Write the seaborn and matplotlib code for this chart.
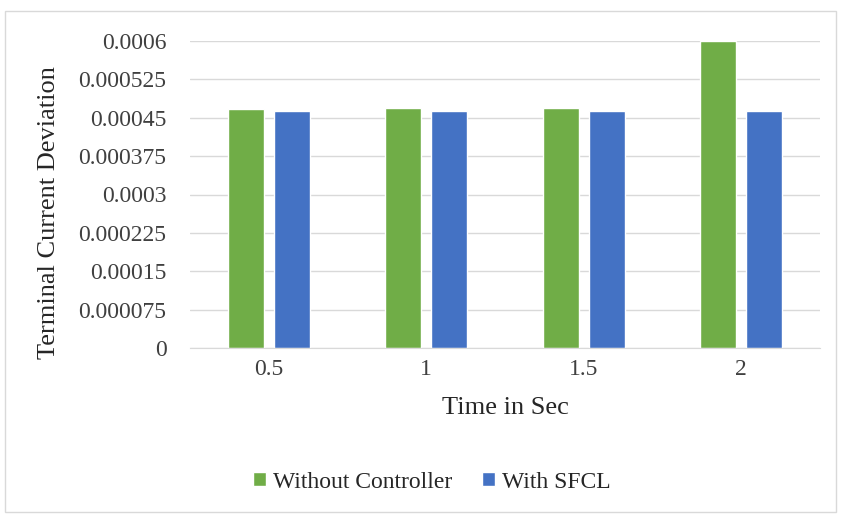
import pandas as pd
import matplotlib.pyplot as plt
import seaborn as sns
from matplotlib.patches import Rectangle

# data
times = ['0.5', '1', '1.5', '2']
without_controller = [0.000467, 0.000470, 0.000470, 0.000600]
with_sfcl = [0.000463, 0.000463, 0.000464, 0.000464]
yticks = [0, 0.000075, 0.00015, 0.000225, 0.0003, 0.000375, 0.00045, 0.000525, 0.0006]
ytick_labels = ['0', '0.000075', '0.00015', '0.000225', '0.0003', '0.000375', '0.00045', '0.000525', '0.0006']

df = pd.DataFrame({
    'Time': times * 2,
    'Value': without_controller + with_sfcl,
    'Series': ['Without Controller'] * 4 + ['With SFCL'] * 4,
})

sns.set_style('white')
plt.rcParams['font.family'] = ['Liberation Serif', 'DejaVu Serif']

fig = plt.figure(figsize=(8.41, 5.14), dpi=100)
ax = fig.add_axes([190 / 841, 1 - 348 / 514, 630 / 841, 307 / 514])

sns.barplot(data=df, x='Time', y='Value', hue='Series',
            palette=['#70AD47', '#4472C4'], width=0.58, gap=0.21,
            saturation=1, ax=ax, legend=True)

ax.set_ylim(0, 0.0006)
ax.set_yticks(yticks)
ax.set_yticklabels(ytick_labels)
ax.yaxis.grid(True, color='#D9D9D9', linewidth=1)
ax.set_axisbelow(True)
for s in ['top', 'right', 'left']:
    ax.spines[s].set_visible(False)
ax.spines['bottom'].set_color('#D9D9D9')
ax.tick_params(axis='both', labelsize=17, colors='#404040', length=0)
ax.tick_params(axis='x', pad=8)
ax.tick_params(axis='y', pad=17)
ax.set_xlabel('Time in Sec', fontsize=19, color='#262626', labelpad=12)
ax.set_ylabel('Terminal Current Deviation', fontsize=19, color='#262626')
ax.yaxis.set_label_coords(60 / 841, 1 - 213 / 514, transform=fig.transFigure)

handles, labels = ax.get_legend_handles_labels()
ax.get_legend().remove()
fig.legend(handles, labels, loc='center', bbox_to_anchor=(432 / 841, 1 - 482 / 514),
           ncol=2, frameon=False, fontsize=17, handlelength=0.55, handleheight=0.55,
           handletextpad=0.3, columnspacing=1.25, labelcolor='#262626')

fig.patches.append(Rectangle((5 / 841, 2 / 514), 831 / 841, 501 / 514,
                             transform=fig.transFigure, fill=False,
                             edgecolor='#D9D9D9', linewidth=1))

plt.savefig('out.png', dpi=100)
